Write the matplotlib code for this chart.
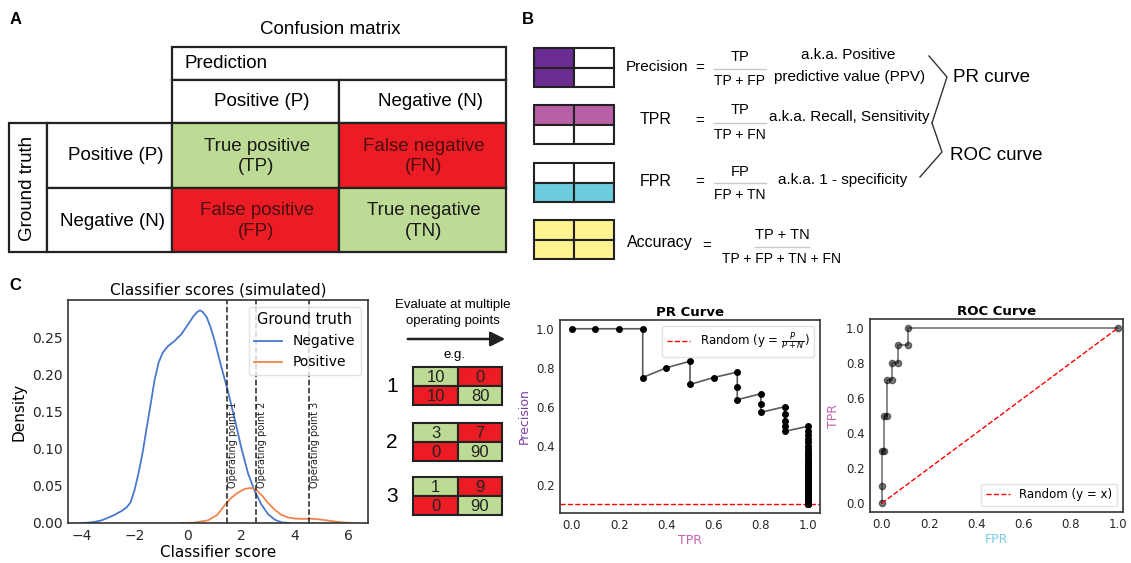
import matplotlib
matplotlib.use("Agg")
import matplotlib.pyplot as plt
from matplotlib.patches import Rectangle
from matplotlib.ticker import FormatStrFormatter
import numpy as np

W, H = 1131, 563

# ---- panel C: simulated score densities ----
neg_x = [-4.0, -3.75, -3.5, -3.25, -3.0, -2.75, -2.5, -2.3, -2.15, -2.0, -1.85, -1.7,
         -1.55, -1.4, -1.25, -1.1, -0.95, -0.75, -0.5, -0.25, 0.0, 0.2, 0.35, 0.45,
         0.55, 0.7, 0.85, 1.0, 1.25, 1.5, 1.75, 2.0, 2.25, 2.5, 2.75, 3.0, 3.25, 3.5, 3.8]
neg_y = [0.0, 0.0005, 0.0015, 0.0035, 0.007, 0.011, 0.016, 0.021, 0.028, 0.045, 0.068, 0.095,
         0.128, 0.16, 0.193, 0.216, 0.229, 0.238, 0.245, 0.254, 0.267, 0.278, 0.284, 0.286,
         0.284, 0.277, 0.263, 0.245, 0.21, 0.177, 0.14, 0.101, 0.067, 0.043, 0.025, 0.012,
         0.0045, 0.001, 0.0]
pos_x = [-0.3, 0.25, 0.75, 1.1, 1.4, 1.6, 1.8, 2.0, 2.15, 2.3, 2.45, 2.6, 2.8, 3.0, 3.25,
         3.5, 3.75, 4.0, 4.3, 4.6, 4.9, 5.2, 5.5, 5.8, 6.2]
pos_y = [0.0, 0.0005, 0.0036, 0.011, 0.025, 0.033, 0.039, 0.0435, 0.046, 0.047, 0.0465,
         0.043, 0.036, 0.027, 0.018, 0.011, 0.0075, 0.006, 0.0055, 0.0058, 0.005, 0.0035,
         0.002, 0.0008, 0.0]
op_thresholds = [1.45, 2.56, 4.55]
op_names = ["Operating point 1", "Operating point 2", "Operating point 3"]

# confusion matrices at the three operating points: TP, FN, FP, TN
op_matrices = [[10, 0, 10, 80], [3, 7, 0, 90], [1, 9, 0, 90]]

# ---- PR / ROC counts ----
n_pos, n_neg = 10, 90
pr_tp = [0, 1, 2, 3, 3, 4, 5, 5, 6, 7, 7, 7, 8, 8, 8, 9, 9, 9, 9, 9] + [10] * 81
pr_fp = [0, 0, 0, 0, 1, 1, 1, 2, 2, 2, 3, 4, 4, 5, 6, 6, 7, 8, 9, 10,
         10, 11, 12, 13, 14, 15, 16, 17, 18, 19, 20, 21, 22, 23, 24, 25, 26, 27, 28, 29,
         30, 31, 32, 33, 34, 35, 36, 37, 38, 39, 40, 41, 42, 43, 44, 45, 46, 47, 48, 49,
         50, 51, 52, 53, 54, 55, 56, 57, 58, 59, 60, 61, 62, 63, 64, 65, 66, 67, 68, 69,
         70, 71, 72, 73, 74, 75, 76, 77, 78, 79, 80, 81, 82, 83, 84, 85, 86, 87, 88, 89, 90]
roc_tp = [0, 1, 3, 3, 5, 5, 7, 7, 8, 8, 9, 9, 10, 10]
roc_fp = [0, 0, 0, 1, 1, 2, 2, 4, 4, 6, 6, 10, 10, 90]

GREEN = "#bddb94"
RED = "#ec1c24"
PURPLE = "#6a2c91"
PINK = "#b95fa6"
CYAN = "#6ccbdc"
YELLOW = "#fff490"
EDGE = "#222222"
SANS = "Liberation Sans"

plt.rcParams["font.family"] = "DejaVu Sans"


def box(ax, x0, y0, x1, y1, fc="white", lw=1.6):
    ax.add_patch(Rectangle((x0, y0), x1 - x0, y1 - y0, facecolor=fc,
                           edgecolor=EDGE, lw=lw))


def txt(ax, x, y, s, size, ha="center", **kw):
    ax.text(x, y, s, fontsize=size, ha=ha, va="center", family=SANS, **kw)


def frac(ax, xc, y_num, y_line, y_den, num, den, half):
    txt(ax, xc, y_num, num, 10.5)
    txt(ax, xc, y_den, den, 10)
    ax.plot([xc - half, xc + half], [y_line, y_line], color="#c8c8c8", lw=1)


fig = plt.figure(figsize=(W / 100, H / 100), dpi=100)
bg = fig.add_axes([0, 0, 1, 1])
bg.set_xlim(0, W)
bg.set_ylim(H, 0)
bg.axis("off")

# ---------------- A: confusion matrix ----------------
bg.text(10, 20, "A", fontsize=12, fontweight="bold", va="center", family=SANS)
txt(bg, 330, 30, "Confusion matrix", 13.5)
box(bg, 172, 47, 506, 80)
txt(bg, 184, 63, "Prediction", 13.5, ha="left")
box(bg, 172, 80, 339, 123)
box(bg, 339, 80, 506, 123)
txt(bg, 262, 101, "Positive (P)", 13.5)
txt(bg, 430, 101, "Negative (N)", 13.5)
box(bg, 9, 123, 47, 252)
txt(bg, 28, 188, "Ground truth", 13.5, rotation=90)
box(bg, 47, 123, 172, 188)
box(bg, 47, 188, 172, 252)
txt(bg, 116, 155, "Positive (P)", 13.5)
txt(bg, 113, 221, "Negative (N)", 13.5)
cells = [(172, 123, 339, 188, GREEN, "True positive\n(TP)"),
         (339, 123, 506, 188, RED, "False negative\n(FN)"),
         (172, 188, 339, 252, RED, "False positive\n(FP)"),
         (339, 188, 506, 252, GREEN, "True negative\n(TN)")]
for x0, y0, x1, y1, fc, label in cells:
    box(bg, x0, y0, x1, y1, fc)
    tc = "#1a1a1a" if fc == GREEN else "#4a0f0f"
    txt(bg, (x0 + x1) / 2 + 1, (y0 + y1) / 2 + 1, label, 13.5, color=tc, linespacing=1.25)

# ---------------- B: metric definitions ----------------
bg.text(522, 19, "B", fontsize=12, fontweight="bold", va="center", family=SANS)
icons = [(48, [PURPLE, "white", PURPLE, "white"]),
         (105, [PINK, PINK, "white", "white"]),
         (163, ["white", "white", CYAN, CYAN]),
         (220, [YELLOW, YELLOW, YELLOW, YELLOW])]
for top, fills in icons:
    xs = [534, 574, 614]
    ys = [top, top + 19.5, top + 39]
    for k, fc in enumerate(fills):
        r, c = divmod(k, 2)
        box(bg, xs[c], ys[r], xs[c + 1], ys[r + 1], fc, lw=1.5)

txt(bg, 657, 67, "Precision", 11)
txt(bg, 700, 68, "=", 11)
frac(bg, 740, 57, 69, 81, "TP", "TP + FP", 26)
txt(bg, 848, 55, "a.k.a. Positive", 11)
txt(bg, 850, 77, "predictive value (PPV)", 11)

txt(bg, 656, 120, "TPR", 11.5)
txt(bg, 700, 121, "=", 11)
frac(bg, 740, 110, 123, 135, "TP", "TP + FN", 26)
txt(bg, 769, 117, "a.k.a. Recall, Sensitivity", 11, ha="left")

txt(bg, 656, 182, "FPR", 11.5)
txt(bg, 700, 182, "=", 11)
frac(bg, 740, 172, 183, 195, "FP", "FP + TN", 26)
txt(bg, 778, 180, "a.k.a. 1 - specificity", 11, ha="left")

txt(bg, 660, 243, "Accuracy", 11.5)
txt(bg, 707, 246, "=", 11)
frac(bg, 782, 235, 247, 259, "TP + TN", "TP + FP + TN + FN", 27)

bg.plot([929, 947, 932], [56, 77, 123], color="#333333", lw=1)
bg.plot([932, 942, 920], [123, 152, 177], color="#333333", lw=1)
txt(bg, 953, 77, "PR curve", 13.5, ha="left")
txt(bg, 950, 155, "ROC curve", 13.5, ha="left")

# ---------------- C: middle schematic ----------------
bg.text(9, 286, "C", fontsize=12, fontweight="bold", va="center", family=SANS)
txt(bg, 453, 305, "Evaluate at multiple", 9.5)
txt(bg, 453, 321, "operating points", 9.5)
bg.annotate("", xy=(508, 339), xytext=(405, 339),
            arrowprops=dict(arrowstyle="-|>", lw=1.8, color="#222222", mutation_scale=22))
txt(bg, 455, 355, "e.g.", 9.5)
mat_tops = [367, 423, 477]
for i, (top, vals) in enumerate(zip(mat_tops, op_matrices)):
    xs = [413, 458, 502]
    ys = [top, top + 19, top + 38]
    fills = [GREEN, RED, RED, GREEN]
    for k, (v, fc) in enumerate(zip(vals, fills)):
        r, c = divmod(k, 2)
        box(bg, xs[c], ys[r], xs[c + 1], ys[r + 1], fc, lw=1.5)
        txt(bg, (xs[c] + xs[c + 1]) / 2, (ys[r] + ys[r + 1]) / 2 + 1, str(v), 12,
            color="#222222")
    txt(bg, 392, top + 19, str(i + 1), 15)


def style_axes(ax, size):
    for s in ax.spines.values():
        s.set_color("#333333")
        s.set_linewidth(1.2)
    ax.tick_params(length=0, pad=4, labelsize=size, colors="#262626")


# density plot
axd = fig.add_axes([68 / W, 1 - 523 / H, 300 / W, 223 / H])
axd.plot(neg_x, neg_y, color="#4878d0", lw=1.3, label="Negative")
axd.plot(pos_x, pos_y, color="#ee854a", lw=1.3, label="Positive")
for t, name in zip(op_thresholds, op_names):
    axd.axvline(t, color="#222222", ls="--", lw=1.1)
    axd.text(t + 0.04, 0.047, name, rotation=90, fontsize=7, ha="left", va="bottom",
             color="#222222")
axd.set_xlim(-4.5, 6.75)
axd.set_ylim(0, 0.30)
axd.set_xticks([-4, -2, 0, 2, 4, 6])
axd.set_yticks([0, 0.05, 0.10, 0.15, 0.20, 0.25])
axd.yaxis.set_major_formatter(FormatStrFormatter("%.2f"))
style_axes(axd, 10)
axd.set_title("Classifier scores (simulated)", fontsize=11, pad=4)
axd.set_xlabel("Classifier score", fontsize=11, labelpad=2)
axd.set_ylabel("Density", fontsize=11)
axd.legend(title="Ground truth", loc="upper right", fontsize=10, title_fontsize=10.5,
           framealpha=0.8, edgecolor="#dddddd")

# PR curve
tp = np.array(pr_tp, dtype=float)
fp = np.array(pr_fp, dtype=float)
precision = np.divide(tp, tp + fp, out=np.ones_like(tp), where=(tp + fp) > 0)
recall = tp / n_pos
axp = fig.add_axes([560 / W, 1 - 513 / H, 260 / W, 193 / H])
axp.plot(recall, precision, "-", color="#5a5a5a", lw=1.2, zorder=2)
axp.plot(recall, precision, "o", color="black", ms=4, zorder=3)
axp.axhline(n_pos / (n_pos + n_neg), color="red", ls="--", lw=1,
            label=r"Random (y = $\frac{P}{P+N}$)")
axp.set_xticks([0, 0.2, 0.4, 0.6, 0.8, 1.0])
axp.set_yticks([0.2, 0.4, 0.6, 0.8, 1.0])
style_axes(axp, 8.5)
axp.set_title("PR Curve", fontsize=9.5, fontweight="bold", pad=3)
axp.set_xlabel("TPR", fontsize=9, color="#c462b2", labelpad=2)
axp.set_ylabel("Precision", fontsize=9, color="#7b3fa0")
axp.legend(loc="upper right", fontsize=8.5, edgecolor="#dddddd")

# ROC curve
roc_x = np.array(roc_fp) / n_neg
roc_y = np.array(roc_tp) / n_pos
axr = fig.add_axes([870 / W, 1 - 512 / H, 253 / W, 193 / H])
axr.plot(roc_x, roc_y, "o-", color="black", alpha=0.5, ms=4.5, lw=1.3)
axr.plot([0, 1], [0, 1], "--", color="red", lw=1, label="Random (y = x)")
axr.set_xlim(-0.05, 1.02)
axr.set_xticks([0, 0.2, 0.4, 0.6, 0.8, 1.0])
axr.set_yticks([0, 0.2, 0.4, 0.6, 0.8, 1.0])
style_axes(axr, 8.5)
axr.set_title("ROC Curve", fontsize=9.5, fontweight="bold", pad=3)
axr.set_xlabel("FPR", fontsize=9, color="#73cde3", labelpad=2)
axr.set_ylabel("TPR", fontsize=9, color="#c462b2")
axr.legend(loc="lower right", fontsize=8.5, edgecolor="#dddddd")

fig.savefig("out.png", dpi=100)
plt.close(fig)
